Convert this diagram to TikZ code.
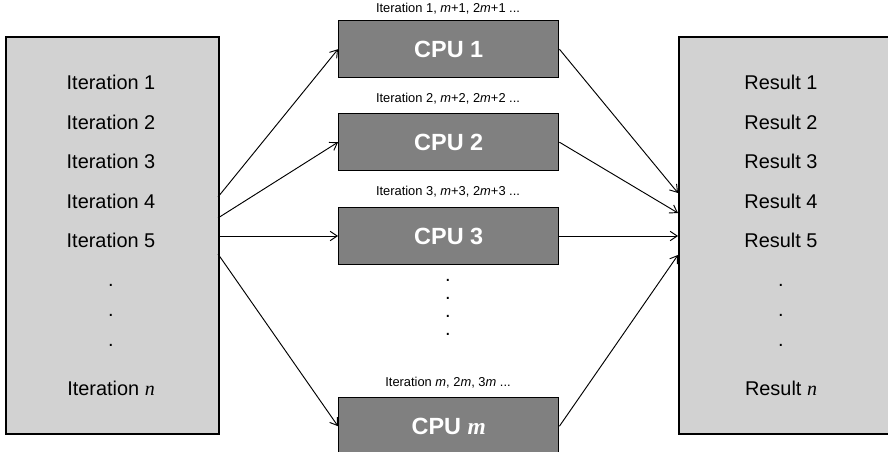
\documentclass[tikz,border=0pt]{standalone}
\usepackage{fontspec}
\setmainfont{Liberation Sans}
\usetikzlibrary{arrows.meta}
\tikzset{
  list/.style={draw=black,line width=1.5pt,fill=gray!35,minimum width=6.39cm,minimum height=11.91cm,anchor=north west},
  cpu/.style={draw=black,line width=1.2pt,fill=gray,minimum width=6.6cm,minimum height=1.71cm,anchor=north west,text=white,font=\fontsize{20}{23}\selectfont\bfseries},
  item/.style={font=\fontsize{17}{20}\selectfont},
  tag/.style={font=\fontsize{11}{13}\selectfont},
  link/.style={-{Straight Barb[length=6pt,width=8pt]},line width=0.8pt}
}
\begin{document}
\begin{tikzpicture}[x=0.03cm,y=-0.03cm]
\useasboundingbox (0,0) rectangle (888,452);
\node[list] (src) at (5,36) {};
\node[list] (dst) at (678,36) {};
\node[cpu] (c1) at (338,20) {CPU 1};
\node[cpu] (c2) at (338,113) {CPU 2};
\node[cpu] (c3) at (338,207) {CPU 3};
\node[cpu] (cm) at (338,397) {CPU \textit{\fontspec{Liberation Serif}m}};
% list entries
\foreach \i/\y in {1/82,2/122,3/161,4/201,5/240} {
  \node[item] (it\i) at (111,\y) {Iteration \i};
  \node[item] (re\i) at (781,\y) {Result \i};
}
\foreach \y in {285,315,345} {
  \node[item] at (111,\y) {.};
  \node[item] at (781,\y) {.};
}
\node[item] (itn) at (111,388) {Iteration \textit{\fontspec{Liberation Serif}n}};
\node[item] (ren) at (781,388) {Result \textit{\fontspec{Liberation Serif}n}};
\foreach \y in {280,298,316,334} \node[item] at (448,\y) {.};
% cpu tags
\node[tag] (t1) at (448,9) {Iteration 1, \textit{m}+1, 2\textit{m}+1 ...};
\node[tag] (t2) at (448,99) {Iteration 2, \textit{m}+2, 2\textit{m}+2 ...};
\node[tag] (t3) at (448,192) {Iteration 3, \textit{m}+3, 2\textit{m}+3 ...};
\node[tag] (tm) at (448,383) {Iteration \textit{m}, 2\textit{m}, 3\textit{m} ...};
% connectors
\coordinate (s1) at (218,197);
\coordinate (s2) at (218,218);
\coordinate (s3) at (218,236);
\coordinate (s4) at (218,254);
\coordinate (e1) at (678,193);
\coordinate (e2) at (678,213);
\coordinate (e3) at (678,236);
\coordinate (e4) at (678,255);
\draw[link] (s1) -- (c1.west);
\draw[link] (s2) -- (c2.west);
\draw[link] (s3) -- (s3 -| c3.west);
\draw[link] (s4) -- (cm.west);
\draw[link] (c1.east) -- (e1);
\draw[link] (c2.east) -- (e2);
\draw[link] (e3 -| c3.east) -- (e3);
\draw[link] (cm.east) -- (e4);
\end{tikzpicture}
\end{document}
